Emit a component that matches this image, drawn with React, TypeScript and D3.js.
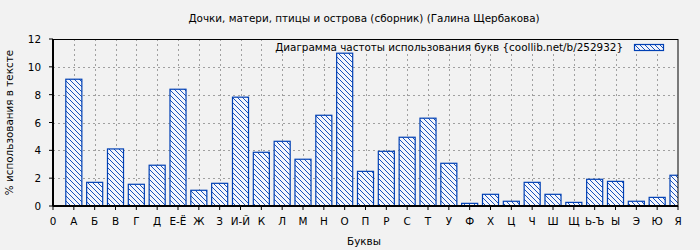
import React from "react";
import * as d3 from "d3";

const title = "Дочки, матери, птицы и острова (сборник) (Галина Щербакова)";
const legendLabel = "Диаграмма частоты использования букв {coollib.net/b/252932}";
const xAxisLabel = "Буквы";
const yAxisLabel = "% использования в тексте";

const categories = ["0", "А", "Б", "В", "Г", "Д", "Е-Ё", "Ж", "З", "И-Й", "К", "Л", "М", "Н", "О", "П", "Р", "С", "Т", "У", "Ф", "Х", "Ц", "Ч", "Ш", "Щ", "Ь-Ъ", "Ы", "Э", "Ю", "Я"];
const values = [0, 9.11, 1.70, 4.10, 1.56, 2.93, 8.39, 1.13, 1.63, 7.82, 3.86, 4.65, 3.36, 6.52, 10.98, 2.49, 3.93, 4.94, 6.31, 3.07, 0.19, 0.84, 0.34, 1.70, 0.84, 0.26, 1.92, 1.77, 0.34, 0.62, 2.21];
const yTicks = [0, 2, 4, 6, 8, 10, 12];

const W = 700, H = 250;
const left = 53, right = 678, top = 39, bottom = 206;
const blue = "#0040b4";
const font = "'DejaVu Sans', sans-serif";
const fs = 10.4;

export default function App() {
  const x = d3.scaleLinear().domain([0, categories.length - 1]).range([left, right]);
  const y = d3.scaleLinear().domain([0, 12]).range([bottom, top]);
  const step = x(1) - x(0);
  const bw = step * 0.77;

  return (
    <svg width={W} height={H} style={{ position: "absolute", left: 0, top: 0, display: "block" }}>
      <defs>
        <pattern id="hatch" patternUnits="userSpaceOnUse" width="5" height="5">
          <rect width="5" height="5" fill="#f4f6fc" />
          <path d="M-1,-1 L6,6 M-1,4 L1,6 M4,-1 L6,1" stroke={blue} strokeWidth="0.9" />
        </pattern>
        <clipPath id="plotClip">
          <rect x={left} y={top} width={right - left} height={bottom - top} />
        </clipPath>
      </defs>
      <rect width={W} height={H} fill="#f2f2f2" />
      <text x={364} y={22} textAnchor="middle" fontFamily={font} fontSize={fs} fill="#000">{title}</text>

      {/* grid */}
      {yTicks.slice(1, -1).map((t) => (
        <line key={"gy" + t} x1={left} x2={right} y1={Math.round(y(t)) + 0.5} y2={Math.round(y(t)) + 0.5} stroke="#a0a0a0" strokeDasharray="2,3" />
      ))}
      {categories.slice(1, -1).map((c, i) => (
        <line key={"gx" + c} x1={Math.round(x(i + 1)) + 0.5} x2={Math.round(x(i + 1)) + 0.5} y1={top} y2={bottom} stroke="#a0a0a0" strokeDasharray="2,3" />
      ))}

      {/* legend background */}
      <rect x={270} y={40} width={406} height={13} fill="#f2f2f2" />

      {/* bars */}
      <g clipPath="url(#plotClip)">
        {values.map((v, i) => i === 0 || v <= 0 ? null : (
          <rect key={"b" + i} x={x(i) - bw / 2} y={y(v)} width={bw} height={bottom - y(v)} fill="url(#hatch)" stroke={blue} strokeWidth={1.2} />
        ))}
      </g>

      {/* frame */}
      <rect x={left} y={top + 0.5} width={right - left} height={bottom - top - 0.5} fill="none" stroke="#000" strokeWidth={1} />
      <line x1={left} x2={right} y1={bottom} y2={bottom} stroke="#000" strokeWidth={2} />
      <line x1={left} x2={left} y1={top} y2={bottom} stroke="#000" strokeWidth={2} />

      {/* y ticks */}
      {yTicks.map((t) => (
        <g key={"yt" + t}>
          <line x1={left - 4} x2={left} y1={y(t)} y2={y(t)} stroke="#000" />
          <text x={41} y={y(t) + 4} textAnchor="end" fontFamily={font} fontSize={fs} fill="#000">{t}</text>
        </g>
      ))}
      {/* x ticks */}
      {categories.map((c, i) => (
        <g key={"xt" + i}>
          <line x1={x(i)} x2={x(i)} y1={bottom} y2={bottom + 4} stroke="#000" />
          <text x={x(i)} y={225} textAnchor="middle" fontFamily={font} fontSize={fs} fill="#000">{c}</text>
        </g>
      ))}

      <text x={364} y={245} textAnchor="middle" fontFamily={font} fontSize={fs} fill="#000">{xAxisLabel}</text>
      <text transform={`translate(13, ${(top + bottom) / 2}) rotate(-90)`} textAnchor="middle" fontFamily={font} fontSize={fs} fill="#000">{yAxisLabel}</text>

      {/* legend */}
      <text x={623} y={51} textAnchor="end" fontFamily={font} fontSize={fs} fill="#000">{legendLabel}</text>
      <rect x={634.5} y={44.5} width={29} height={6} fill="url(#hatch)" stroke={blue} strokeWidth={1.2} />
    </svg>
  );
}
